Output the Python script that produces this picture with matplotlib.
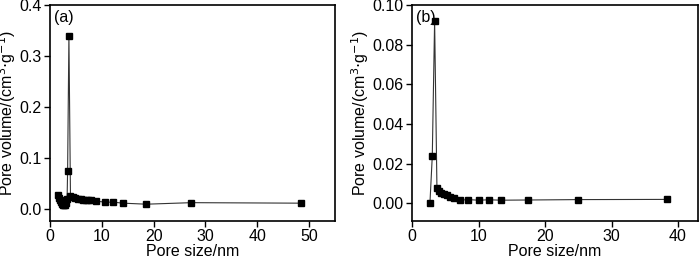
import matplotlib
matplotlib.use('Agg')
import matplotlib.pyplot as plt

plt.rcParams['font.family'] = ['Liberation Sans', 'DejaVu Sans']
plt.rcParams['font.size'] = 11.5

# (a) pore size distribution
size_a = [1.5, 1.7, 1.9, 2.1, 2.3, 2.5, 2.7, 2.9, 3.1, 3.3, 3.4, 3.65, 3.95,
          4.4, 4.9, 5.4, 5.9, 6.4, 6.9, 7.4, 7.9, 8.9, 10.6, 12.2, 14.1,
          18.6, 27.3, 48.4]
vol_a = [0.027, 0.022, 0.017, 0.013, 0.010, 0.008, 0.007, 0.008, 0.012, 0.020,
         0.075, 0.340, 0.025, 0.023, 0.021, 0.020, 0.019, 0.018, 0.018, 0.017,
         0.017, 0.015, 0.013, 0.013, 0.011, 0.009, 0.012, 0.011]

# (b)
size_b = [2.7, 3.05, 3.4, 3.75, 4.05, 4.4, 4.8, 5.2, 5.7, 6.3, 7.2, 8.4,
          10.0, 11.6, 13.4, 17.5, 25.0, 38.3]
vol_b = [0.0002, 0.0238, 0.0920, 0.0075, 0.0062, 0.0052, 0.0045, 0.0040,
         0.0031, 0.0025, 0.0015, 0.0018, 0.0015, 0.0017, 0.0015, 0.0016,
         0.0018, 0.0019]

ylab = 'Pore volume/(cm$^{3}$$\\cdot$g$^{-1}$)'

fig = plt.figure(figsize=(7, 2.56), dpi=100)
ax1 = fig.add_axes([50/700, 35/256, 285/700, 216/256])
ax2 = fig.add_axes([412/700, 35/256, 286/700, 216/256])

for ax, x, y, tag in [(ax1, size_a, vol_a, '(a)'), (ax2, size_b, vol_b, '(b)')]:
    ax.plot(x, y, '-', color='#333333', lw=0.8, marker='s', ms=4.5,
            mfc='black', mec='black')
    ax.set_xlabel('Pore size/nm', labelpad=0)
    ax.set_ylabel(ylab, labelpad=1)
    for s in ax.spines.values():
        s.set_linewidth(1.2)
    ax.tick_params(direction='out', width=1.0, length=4, pad=2)
    ax.text(0.015, 0.975, tag, transform=ax.transAxes, ha='left', va='top')

ax1.set_xlim(0, 55)
ax1.set_ylim(-0.024, 0.4)
ax1.set_xticks([0, 10, 20, 30, 40, 50])
ax1.set_yticks([0.0, 0.1, 0.2, 0.3, 0.4])
ax1.set_yticklabels(['0.0', '0.1', '0.2', '0.3', '0.4'])

ax2.set_xlim(0, 43)
ax2.set_ylim(-0.009, 0.1)
ax2.set_xticks([0, 10, 20, 30, 40])
ax2.set_yticks([0.0, 0.02, 0.04, 0.06, 0.08, 0.10])
ax2.set_yticklabels(['0.00', '0.02', '0.04', '0.06', '0.08', '0.10'])

fig.savefig('out.png', dpi=100)
